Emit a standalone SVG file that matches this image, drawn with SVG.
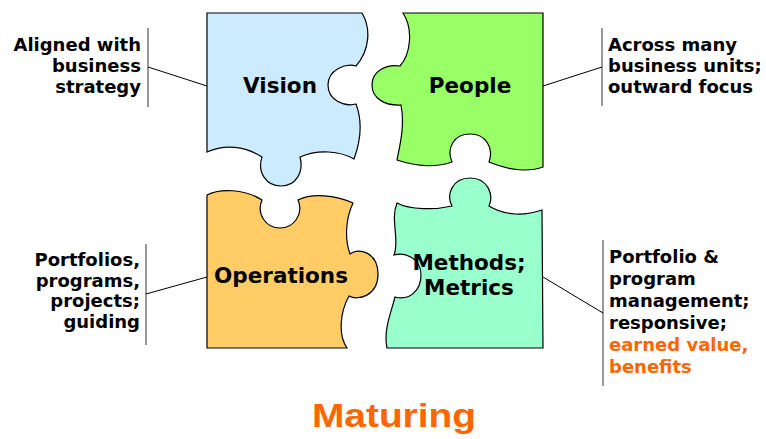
<svg xmlns="http://www.w3.org/2000/svg" width="766" height="439" viewBox="0 0 766 439">
<style>
.piece{stroke:#000;stroke-width:1.2}
.lbl{font-family:"DejaVu Sans",Verdana,sans-serif;font-weight:bold;font-size:21.5px;fill:#000;text-anchor:middle}
.side{font-family:"DejaVu Sans",Verdana,sans-serif;font-weight:bold;font-size:18px;fill:#000}
.end{text-anchor:end}
.org{fill:#FF6600}
.bar{stroke:#555;stroke-width:1.2;fill:none}
.con{stroke:#000;stroke-width:1;fill:none}
</style>
<rect width="766" height="439" fill="#fff"/>
<g id="connectors">
<line class="bar" x1="148" y1="28" x2="148" y2="107"/>
<line class="con" x1="148" y1="67" x2="207" y2="86"/>
<line class="bar" x1="602" y1="28" x2="602" y2="106"/>
<line class="con" x1="543" y1="86" x2="602" y2="67"/>
<line class="bar" x1="146" y1="244" x2="146" y2="345"/>
<line class="con" x1="146" y1="294" x2="207" y2="277"/>
<line class="bar" x1="603" y1="240" x2="603" y2="386"/>
<line class="con" x1="543" y1="277" x2="603" y2="313"/>
</g>
<g id="vision">
<path class="piece" fill="#CCEBFF" d="M207,13 L362,13 C371,28 370,50 356,66 C345,63 328,70 328,85 C328,100 344,107 356,104 C362,120 361,140 354,159 C340,151 318,149 300,157 C304,172 296,186 281,186 C266,186 257,172 262,157 C245,146 225,144 207,152 Z"/>
<text class="lbl" x="280" y="93">Vision</text>
</g>
<g id="people">
<path class="piece" fill="#99FF66" d="M403,13 L543,13 L543,167 C530,172 510,171 489,162 C494,148 486,134 470,134 C454,134 446,148 452,162 C435,168 415,166 397,160 C400,145 405,125 401,105 C386,106 372,99 372,85 C372,71 386,64 400,66 C410,55 414,30 403,13 Z"/>
<text class="lbl" x="470" y="93">People</text>
</g>
<g id="operations">
<path class="piece" fill="#FFCC66" d="M207,195 C220,188 245,189 262,200 C256,214 266,228 280,228 C294,228 304,214 298,200 C312,193 335,195 353,203 C345,220 345,240 350,254 C358,247 378,252 378,274 C378,296 358,301 349,296 C340,312 338,335 347,348 L207,348 Z"/>
<text class="lbl" x="281" y="283">Operations</text>
</g>
<g id="methods">
<path class="piece" fill="#99FFCC" d="M397,203 C410,210 435,210 452,206 C446,195 452,178 470,178 C488,178 494,195 489,206 C505,216 525,216 542,210 L543,348 L387,348 C383,330 392,310 395,297 C410,301 421,290 421,275 C421,258 405,252 394,255 C400,240 390,220 397,203 Z"/>
<text class="lbl" x="469" y="270">Methods;</text>
<text class="lbl" x="469" y="295">Metrics</text>
</g>
<g id="label-vision">
<text class="side end" x="141" y="51">Aligned with</text>
<text class="side end" x="141" y="72">business</text>
<text class="side end" x="141" y="93">strategy</text>
</g>
<g id="label-people">
<text class="side" x="608" y="51">Across many</text>
<text class="side" x="608" y="72">business units;</text>
<text class="side" x="608" y="93">outward focus</text>
</g>
<g id="label-operations">
<text class="side end" x="140" y="266">Portfolios,</text>
<text class="side end" x="140" y="287">programs,</text>
<text class="side end" x="140" y="307">projects;</text>
<text class="side end" x="140" y="328">guiding</text>
</g>
<g id="label-methods">
<text class="side" x="609" y="263">Portfolio &amp;</text>
<text class="side" x="609" y="285">program</text>
<text class="side" x="609" y="307">management;</text>
<text class="side" x="609" y="329">responsive;</text>
<text class="side org" x="609" y="351">earned value,</text>
<text class="side org" x="609" y="373">benefits</text>
</g>
<g id="title">
<text x="312" y="427" font-family="'Liberation Sans',Arial,sans-serif" font-weight="bold" font-size="34" fill="#FF6600" textLength="164" lengthAdjust="spacingAndGlyphs">Maturing</text>
</g>
</svg>
